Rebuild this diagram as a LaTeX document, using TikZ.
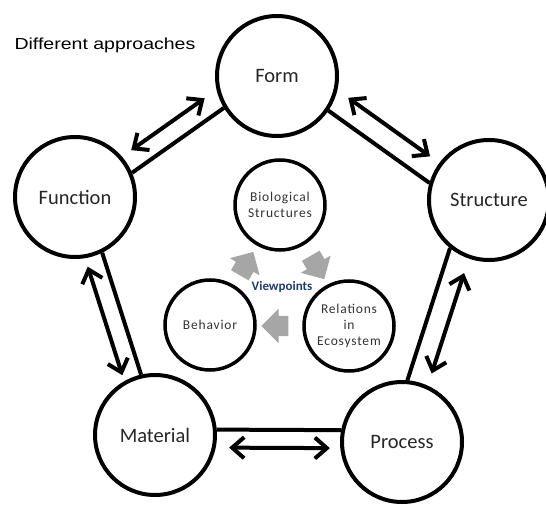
\documentclass[tikz,border=0pt]{standalone}
\usepackage{fontspec}
\setmainfont{Carlito}
\newfontfamily\headfont[FakeStretch=1.22]{Liberation Sans}
\newfontfamily\innerfont[LetterSpace=6]{Carlito}
\usetikzlibrary{arrows.meta,calc,shapes.arrows}
\definecolor{viewblue}{RGB}{30,60,110}

\begin{document}
\begin{tikzpicture}[x=1pt,y=1pt]
    \tikzset{approach/.style={draw, shape=circle, line width=4pt, minimum size=120pt, inner sep=0pt, text=black!85, font=\fontsize{20.5}{24}\selectfont},
             viewpoint/.style={draw, shape=circle, line width=3.5pt, minimum size=90pt, inner sep=0pt, align=center, text=black!80, font=\innerfont\fontsize{13.5}{16}\selectfont},
             link/.style={line width=4pt},
             twoway/.style={line width=4pt, {Straight Barb[length=12pt,width=21pt]}-{Straight Barb[length=12pt,width=21pt]}},
             turn/.style={single arrow, fill=black!35, minimum height=27pt, inner xsep=0pt, inner ysep=10pt, single arrow head extend=7pt}}
    \useasboundingbox (0,0) rectangle (546,504);

    \node[anchor=base west, font=\headfont\fontsize{16}{19}\selectfont] (title) at (11,454) {Different approaches};

    % outer ring
    \node[approach] (Form) at (277,428) {Form};
    \node[approach] (Structure) at (489,304) {Structure};
    \node[approach] (Process) at (402,62) {Process};
    \node[approach] (Material) at (155,69) {Material};
    \node[approach] (Function) at (75,307) {Function};

    \draw[link]
        (Function.23) edge (Form.211)
        (Form.326) edge (Structure.164)
        (Structure.231) edge (Process.85)
        (Process.169) edge (Material.5)
        (Material.103) edge (Function.296);

    \draw[twoway] ($(Function.23)!.11!(Form.211)!19pt!90:(Form.211)$) -- ($(Function.23)!.91!(Form.211)!19pt!90:(Form.211)$);
    \draw[twoway] ($(Form.326)!.07!(Structure.164)!22pt!90:(Structure.164)$) -- ($(Form.326)!.88!(Structure.164)!22pt!90:(Structure.164)$);
    \draw[twoway] ($(Structure.231)!.14!(Process.85)!21pt!90:(Process.85)$) -- ($(Structure.231)!.9!(Process.85)!21pt!90:(Process.85)$);
    \draw[twoway] ($(Process.169)!.09!(Material.5)!18pt!90:(Material.5)$) -- ($(Process.169)!.9!(Material.5)!18pt!90:(Material.5)$);
    \draw[twoway] ($(Material.103)!.04!(Function.296)!18pt!90:(Function.296)$) -- ($(Material.103)!.93!(Function.296)!18pt!90:(Function.296)$);

    % inner cycle
    \node[viewpoint] (Bio) at (280,299) {Biological\\Structures};
    \node[viewpoint] (Relations) at (349,178) {Relations\\in\\Ecosystem};
    \node[viewpoint] (Behavior) at (210,179) {Behavior};
    \node[text=viewblue, font=\bfseries\fontsize{13}{15}\selectfont] (view) at (282,217) {Viewpoints};

    \node[turn, rotate=-60] (toRel) at (315,241) {};
    \node[turn, rotate=180] (toBeh) at (280,178) {};
    \node[turn, rotate=60] (toBio) at (244,236) {};
\end{tikzpicture}
\end{document}
